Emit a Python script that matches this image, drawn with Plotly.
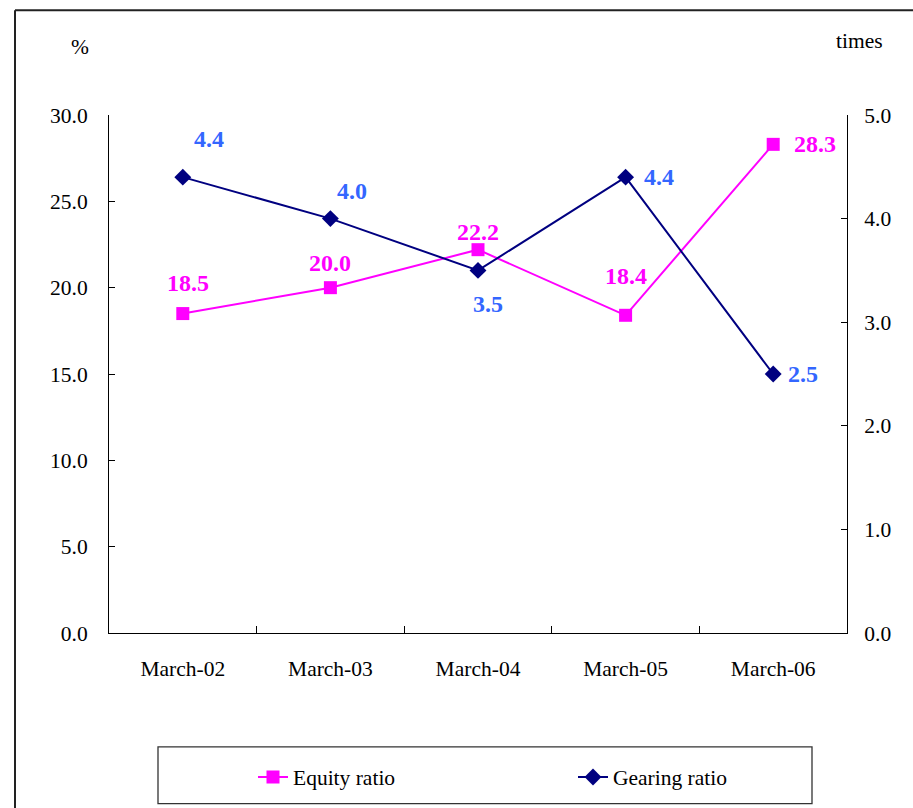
import plotly.graph_objects as go

categories = ["March-02", "March-03", "March-04", "March-05", "March-06"]
equity_ratio = [18.5, 20.0, 22.2, 18.4, 28.3]
gearing_ratio = [4.4, 4.0, 3.5, 4.4, 2.5]
left_ticks = [0, 5, 10, 15, 20, 25, 30]
right_ticks = [0, 1, 2, 3, 4, 5]

# label offsets (pixels) for data labels
equity_label_shift = [(5, 31), (0, 25), (0, 18), (0, 39), (42, 0)]
gearing_label_shift = [(26, 38), (22, 28), (10, -34), (33, 0), (30, 0)]

MAGENTA = "#FF00FF"
NAVY = "#000080"
LBLUE = "#3366FF"
FONT = "Liberation Serif, Times New Roman, serif"
TICK = 21.5
LBL = 24

fig = go.Figure()
fig.add_trace(go.Scatter(
    x=categories, y=equity_ratio, name="Equity ratio", mode="lines+markers",
    line=dict(color=MAGENTA, width=2),
    marker=dict(symbol="square", size=13, color=MAGENTA),
    yaxis="y", cliponaxis=False))
fig.add_trace(go.Scatter(
    x=categories, y=gearing_ratio, name="Gearing ratio", mode="lines+markers",
    line=dict(color=NAVY, width=2),
    marker=dict(symbol="diamond", size=13, color=NAVY),
    yaxis="y2", cliponaxis=False))

annotations = []
for c, v, (dx, dy) in zip(categories, equity_ratio, equity_label_shift):
    annotations.append(dict(x=c, y=v, xref="x", yref="y", text=f"<b>{v:.1f}</b>",
                            showarrow=False, xshift=dx, yshift=dy,
                            font=dict(family=FONT, size=LBL, color=MAGENTA)))
for c, v, (dx, dy) in zip(categories, gearing_ratio, gearing_label_shift):
    annotations.append(dict(x=c, y=v, xref="x", yref="y2", text=f"<b>{v:.1f}</b>",
                            showarrow=False, xshift=dx, yshift=dy,
                            font=dict(family=FONT, size=LBL, color=LBLUE)))

# axis unit labels
annotations.append(dict(x=(80 - 109) / 738, y=1 + (115 - 47) / 519, xref="paper", yref="paper",
                        xanchor="center", yanchor="middle",
                        text="%", showarrow=False, font=dict(family=FONT, size=TICK, color="black")))
annotations.append(dict(x=(859 - 109) / 738, y=1 + (115 - 41) / 519, xref="paper", yref="paper",
                        xanchor="center", yanchor="middle",
                        text="times", showarrow=False, font=dict(family=FONT, size=TICK, color="black")))

shapes = [
    # outer chart border (left and top)
    dict(type="line", xref="paper", yref="paper",
         x0=(15 - 109) / 738, x1=(930 - 109) / 738,
         y0=1 + (115 - 10) / 519, y1=1 + (115 - 10) / 519,
         line=dict(color="#222", width=2)),
    dict(type="line", xref="paper", yref="paper",
         x0=(15 - 109) / 738, x1=(15 - 109) / 738,
         y0=1 + (115 - 10) / 519, y1=(634 - 830) / 519,
         line=dict(color="#222", width=2)),
    # legend box
    dict(type="rect", xref="paper", yref="paper",
         x0=(158 - 109) / 738, x1=(812 - 109) / 738,
         y0=(634 - 748) / 519, y1=(634 - 805) / 519,
         line=dict(color="#333", width=1.3)),
]

fig.update_layout(
    width=913, height=808,
    margin=dict(l=109, r=66, t=115, b=174),
    paper_bgcolor="white", plot_bgcolor="white",
    font=dict(family=FONT, size=TICK, color="black"),
    showlegend=True,
    legend=dict(orientation="h", x=(253 - 109) / 738, xanchor="left",
                y=(634 - 777) / 519, yanchor="middle",
                entrywidth=275, bgcolor="rgba(0,0,0,0)", borderwidth=0,
                font=dict(family=FONT, size=TICK, color="black")),
    xaxis=dict(type="category", range=[-0.5, 4.5], showline=True, linecolor="black",
               linewidth=1, ticks="inside", tickson="boundaries", ticklen=7,
               tickcolor="black", showgrid=False, zeroline=False,
               tickfont=dict(family=FONT, size=TICK), ticklabelstandoff=16),
    yaxis=dict(range=[0, 30], tickvals=left_ticks, tickformat=".1f", showline=True,
               linecolor="black", linewidth=1, ticks="inside", ticklen=6,
               tickcolor="black", showgrid=False, zeroline=False,
               tickfont=dict(family=FONT, size=TICK), ticklabelstandoff=16),
    yaxis2=dict(range=[0, 5], tickvals=right_ticks, tickformat=".1f", overlaying="y",
                side="right", showline=True, linecolor="black", linewidth=1,
                ticks="inside", ticklen=6, tickcolor="black", showgrid=False,
                zeroline=False, tickfont=dict(family=FONT, size=TICK), ticklabelstandoff=12),
    annotations=annotations,
    shapes=shapes,
)

fig.write_html("out.html")
